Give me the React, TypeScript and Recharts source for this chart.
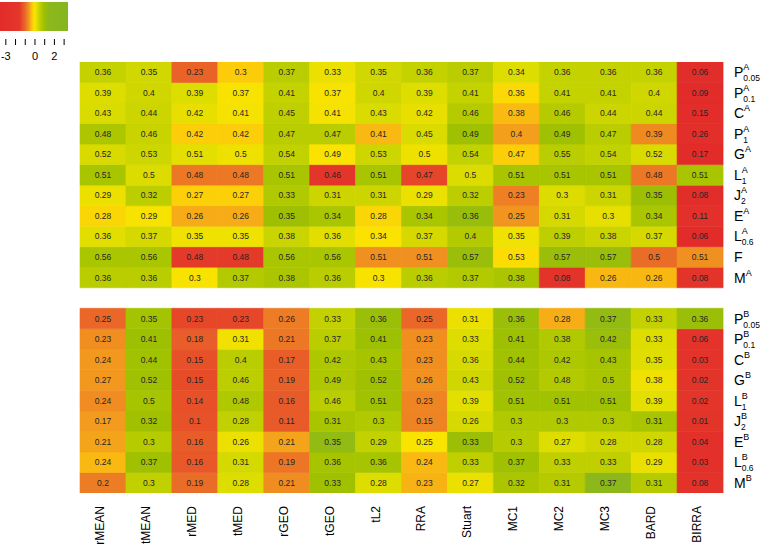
import React from 'react';
import { BarChart, Bar, XAxis, YAxis, Cell, LabelList } from 'recharts';

const columns = ['rMEAN', 'tMEAN', 'rMED', 'tMED', 'rGEO', 'tGEO', 'tL2', 'RRA', 'Stuart', 'MC1', 'MC2', 'MC3', 'BARD', 'BIRRA'];

// row labels: [base, superscript, subscript]
const topRowLabels: [string, string, string][] = [
  ['P', 'A', '0.05'], ['P', 'A', '0.1'], ['C', 'A', ''], ['P', 'A', '1'], ['G', 'A', ''], ['L', 'A', '1'],
  ['J', 'A', '2'], ['E', 'A', ''], ['L', 'A', '0.6'], ['F', '', ''], ['M', 'A', ''],
];
const bottomRowLabels: [string, string, string][] = [
  ['P', 'B', '0.05'], ['P', 'B', '0.1'], ['C', 'B', ''], ['G', 'B', ''], ['L', 'B', '1'],
  ['J', 'B', '2'], ['E', 'B', ''], ['L', 'B', '0.6'], ['M', 'B', ''],
];

const topValues: number[][] = [
  [0.36, 0.35, 0.23, 0.3, 0.37, 0.33, 0.35, 0.36, 0.37, 0.34, 0.36, 0.36, 0.36, 0.06],
  [0.39, 0.4, 0.39, 0.37, 0.41, 0.37, 0.4, 0.39, 0.41, 0.36, 0.41, 0.41, 0.4, 0.09],
  [0.43, 0.44, 0.42, 0.41, 0.45, 0.41, 0.43, 0.42, 0.46, 0.38, 0.46, 0.44, 0.44, 0.15],
  [0.48, 0.46, 0.42, 0.42, 0.47, 0.47, 0.41, 0.45, 0.49, 0.4, 0.49, 0.47, 0.39, 0.26],
  [0.52, 0.53, 0.51, 0.5, 0.54, 0.49, 0.53, 0.5, 0.54, 0.47, 0.55, 0.54, 0.52, 0.17],
  [0.51, 0.5, 0.48, 0.48, 0.51, 0.46, 0.51, 0.47, 0.5, 0.51, 0.51, 0.51, 0.48, 0.51],
  [0.29, 0.32, 0.27, 0.27, 0.33, 0.31, 0.31, 0.29, 0.32, 0.23, 0.3, 0.31, 0.35, 0.08],
  [0.28, 0.29, 0.26, 0.26, 0.35, 0.34, 0.28, 0.34, 0.36, 0.25, 0.31, 0.3, 0.34, 0.11],
  [0.36, 0.37, 0.35, 0.35, 0.38, 0.36, 0.34, 0.37, 0.4, 0.35, 0.39, 0.38, 0.37, 0.06],
  [0.56, 0.56, 0.48, 0.48, 0.56, 0.56, 0.51, 0.51, 0.57, 0.53, 0.57, 0.57, 0.5, 0.51],
  [0.36, 0.36, 0.3, 0.37, 0.38, 0.36, 0.3, 0.36, 0.37, 0.38, 0.08, 0.26, 0.26, 0.08],
];

const bottomValues: number[][] = [
  [0.25, 0.35, 0.23, 0.23, 0.26, 0.33, 0.36, 0.25, 0.31, 0.36, 0.28, 0.37, 0.33, 0.36],
  [0.23, 0.41, 0.18, 0.31, 0.21, 0.37, 0.41, 0.23, 0.33, 0.41, 0.38, 0.42, 0.33, 0.06],
  [0.24, 0.44, 0.15, 0.4, 0.17, 0.42, 0.43, 0.23, 0.36, 0.44, 0.42, 0.43, 0.35, 0.03],
  [0.27, 0.52, 0.15, 0.46, 0.19, 0.49, 0.52, 0.26, 0.43, 0.52, 0.48, 0.5, 0.38, 0.02],
  [0.24, 0.5, 0.14, 0.48, 0.16, 0.46, 0.51, 0.23, 0.39, 0.51, 0.51, 0.51, 0.39, 0.02],
  [0.17, 0.32, 0.1, 0.28, 0.11, 0.31, 0.3, 0.15, 0.26, 0.3, 0.3, 0.3, 0.31, 0.01],
  [0.21, 0.3, 0.16, 0.26, 0.21, 0.35, 0.29, 0.25, 0.33, 0.3, 0.27, 0.28, 0.28, 0.04],
  [0.24, 0.37, 0.16, 0.31, 0.19, 0.36, 0.36, 0.24, 0.33, 0.37, 0.33, 0.33, 0.29, 0.03],
  [0.2, 0.3, 0.19, 0.28, 0.21, 0.33, 0.28, 0.23, 0.27, 0.32, 0.31, 0.37, 0.31, 0.08],
];

const legendTicks = [-3, -2, -1, 0, 1, 2, 3];
const legendTickLabels = ['-3', '', '', '0', '', '2', ''];

// colour scale (row z-score -> colour)
const colorStops: [number, string][] = [
  [-3.6, '#e22b2a'],
  [-1.6, '#e4372a'],
  [-1.0, '#ea6a28'],
  [-0.6, '#f29a1e'],
  [-0.3, '#fcc70c'],
  [-0.05, '#fbe300'],
  [0.2, '#e0de00'],
  [0.5, '#c0d000'],
  [0.9, '#a0c100'],
  [1.4, '#8cb81c'],
  [3.4, '#86b51e'],
];

const hex = (h: string) => [parseInt(h.slice(1, 3), 16), parseInt(h.slice(3, 5), 16), parseInt(h.slice(5, 7), 16)];
const colorFor = (z: number) => {
  if (z <= colorStops[0][0]) return colorStops[0][1];
  for (let i = 1; i < colorStops.length; i++) {
    if (z <= colorStops[i][0]) {
      const [z0, c0] = colorStops[i - 1];
      const [z1, c1] = colorStops[i];
      const t = (z - z0) / (z1 - z0);
      const a = hex(c0), b = hex(c1);
      const m = a.map((v, k) => Math.round(v + (b[k] - v) * t));
      return `rgb(${m[0]},${m[1]},${m[2]})`;
    }
  }
  return colorStops[colorStops.length - 1][1];
};

const rowZ = (row: number[]) => {
  const n = row.length;
  const mean = row.reduce((s, v) => s + v, 0) / n;
  const sd = Math.sqrt(row.reduce((s, v) => s + (v - mean) * (v - mean), 0) / (n - 1));
  return row.map((v) => (sd > 0 ? (v - mean) / sd : 0));
};

const topZ = topValues.map(rowZ);
const bottomZ = bottomValues.map(rowZ);

type RowDef = { key: string; values: number[] | null; z: number[] | null; label: [string, string, string] | null };

// stacking order from bottom to top
const rowDefs: RowDef[] = [];
for (let i = bottomValues.length - 1; i >= 0; i--) rowDefs.push({ key: `b${i}`, values: bottomValues[i], z: bottomZ[i], label: bottomRowLabels[i] });
rowDefs.push({ key: 'gap', values: null, z: null, label: null });
for (let i = topValues.length - 1; i >= 0; i--) rowDefs.push({ key: `t${i}`, values: topValues[i], z: topZ[i], label: topRowLabels[i] });

const chartData = columns.map((name) => {
  const o: Record<string, any> = { name };
  rowDefs.forEach((r) => { o[r.key] = 1; });
  return o;
});

const yTicks: number[] = [];
const tickLabelMap: Record<string, [string, string, string]> = {};
rowDefs.forEach((r, i) => {
  if (r.label) {
    yTicks.push(i + 0.5);
    tickLabelMap[String(i + 0.5)] = r.label;
  }
});

const FONT = 'Liberation Sans, Arial, Helvetica, sans-serif';
const charW: Record<string, number> = { P: 0.667, C: 0.722, G: 0.778, L: 0.556, J: 0.5, E: 0.667, F: 0.611, M: 0.833 };

const RowTick = (props: any) => {
  const { y, payload } = props;
  const lab = tickLabelMap[String(payload.value)];
  if (!lab) return null;
  const [base, sup, sub] = lab;
  const x0 = 734;
  const fs = 14;
  const w = (charW[base] || 0.667) * fs;
  return (
    <g>
      <text x={x0} y={y + 5} fontSize={fs} fontFamily={FONT} fill="#000">{base}</text>
      {sup && <text x={x0 + w} y={y - 2} fontSize={9} fontFamily={FONT} fill="#000">{sup}</text>}
      {sub && <text x={x0 + w} y={y + 9} fontSize={8.5} fontFamily={FONT} fill="#000">{sub}</text>}
    </g>
  );
};

const ColTick = (props: any) => {
  const { x, payload } = props;
  const bx = x + 1;
  const by = 506;
  return (
    <text x={bx} y={by} transform={`rotate(-90, ${bx}, ${by})`} textAnchor="end" fontSize={12} fontFamily={FONT} fill="#000">
      {payload.value}
    </text>
  );
};

const Legend = () => {
  const x0 = 0, w = 68, zMin = -3.6, zMax = 3.4;
  const toX = (z: number) => x0 + ((z - zMin) / (zMax - zMin)) * w;
  return (
    <svg width={80} height={64} style={{ position: 'absolute', left: 0, top: 0 }}>
      <defs>
        <linearGradient id="lg" x1="0" x2="1" y1="0" y2="0">
          {colorStops.map(([z, c], i) => (
            <stop key={i} offset={`${((z - zMin) / (zMax - zMin)) * 100}%`} stopColor={c} />
          ))}
        </linearGradient>
      </defs>
      <rect x={x0} y={2} width={w} height={29} fill="url(#lg)" />
      {legendTicks.map((t, i) => (
        <g key={i}>
          <line x1={toX(t)} x2={toX(t)} y1={39} y2={45} stroke="#000" strokeWidth={1} />
          {legendTickLabels[i] && (
            <text x={toX(t)} y={60} textAnchor="middle" fontSize={11} fontFamily={FONT} fill="#000">{legendTickLabels[i]}</text>
          )}
        </g>
      ))}
    </svg>
  );
};

export default function App() {
  return (
    <div style={{ position: 'absolute', left: 0, top: 0, width: 760, height: 547, background: '#fff' }}>
      <BarChart
        width={760}
        height={547}
        data={chartData}
        margin={{ top: 62, right: 0, bottom: 0, left: 80 }}
        barCategoryGap={0}
        barGap={0}
      >
        <XAxis dataKey="name" type="category" height={54} interval={0} tick={<ColTick />} axisLine={false} tickLine={false} />
        <YAxis
          type="number"
          domain={[0, rowDefs.length]}
          orientation="right"
          width={37}
          ticks={yTicks}
          interval={0}
          tick={<RowTick />}
          axisLine={false}
          tickLine={false}
          allowDataOverflow
        />
        {rowDefs.map((r) => (
          <Bar key={r.key} dataKey={r.key} stackId="s" isAnimationActive={false}>
            {columns.map((c, ci) => {
              const fill = r.z ? colorFor(r.z[ci]) : 'rgba(0,0,0,0)';
              return <Cell key={c} fill={fill} stroke={r.z ? fill : 'none'} strokeWidth={0.6} />;
            })}
            {r.values && (
              <LabelList
                dataKey={r.key}
                content={(p: any) => {
                  const { x, y, width, height, index } = p;
                  return (
                    <text
                      x={Number(x) + Number(width) / 2}
                      y={Number(y) + Number(height) / 2 + 3}
                      textAnchor="middle"
                      fontSize={8.5}
                      fontFamily={FONT}
                      fill="#262626"
                    >
                      {String((r.values as number[])[index])}
                    </text>
                  );
                }}
              />
            )}
          </Bar>
        ))}
      </BarChart>
      <Legend />
    </div>
  );
}
